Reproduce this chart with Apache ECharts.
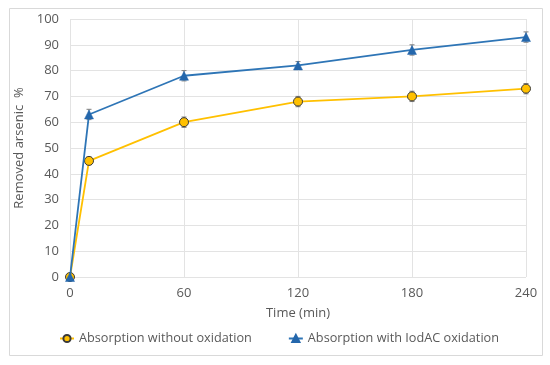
<!DOCTYPE html>
<html><head><meta charset="utf-8">
<script src="https://cdn.jsdelivr.net/npm/echarts@6/dist/echarts.min.js"></script>
<style>html,body{margin:0;padding:0;background:#fff}#c{width:550px;height:365px}</style>
</head><body><div id="c"></div>
<script>
var times = [0, 10, 60, 120, 180, 240];
var withoutOx = [0, 45, 60, 68, 70, 73];
var withOx = [0, 63, 78, 82, 88, 93];
var errWithout = [0, 1.5, 2, 2, 2, 2];
var errWith = [0, 2, 2, 1.5, 2, 2];
var xTicks = [0, 60, 120, 180, 240];
var nameWithout = 'Absorption without oxidation';
var nameWith = 'Absorption with IodAC oxidation';

function pairs(ys){ return times.map(function(t,i){ return [t, ys[i]]; }); }
function errData(ys, es){ return times.map(function(t,i){ return [t, ys[i]-es[i], ys[i]+es[i]]; }); }
function errRender(params, api){
  var x = api.value(0);
  var lo = api.coord([x, api.value(1)]);
  var hi = api.coord([x, api.value(2)]);
  var w = 2.5;
  var st = {stroke:'#7f7f7f', lineWidth:1};
  return {type:'group', children:[
    {type:'line', shape:{x1:lo[0],y1:lo[1],x2:hi[0],y2:hi[1]}, style:st},
    {type:'line', shape:{x1:lo[0]-w,y1:lo[1],x2:lo[0]+w,y2:lo[1]}, style:st},
    {type:'line', shape:{x1:hi[0]-w,y1:hi[1],x2:hi[0]+w,y2:hi[1]}, style:st}
  ]};
}
var font = 'Open Sans, Liberation Sans, sans-serif';
var chart = echarts.init(document.getElementById('c'));
chart.setOption({
  animation:false,
  graphic:[{type:'rect', shape:{x:9.5,y:8.5,width:533,height:347}, style:{fill:'none', stroke:'#d9d9d9', lineWidth:1}, silent:true, z:-1}],
  grid:{left:70, right:24, top:19, bottom:88},
  xAxis:{type:'value', min:0, max:240, interval:60,
    name:'Time (min)', nameLocation:'middle', nameGap:30,
    nameTextStyle:{fontFamily:font, fontSize:13, color:'#595959'},
    axisLine:{show:false}, axisTick:{show:false},
    axisLabel:{fontFamily:font, fontSize:13, color:'#595959', margin:10,
      formatter:function(v){ return xTicks.indexOf(v) >= 0 ? String(v) : ''; }},
    splitLine:{show:true, lineStyle:{color:'#e3e3e3'}}},
  yAxis:{type:'value', min:0, max:100, interval:10,
    name:'Removed arsenic  %', nameLocation:'middle', nameGap:37,
    nameTextStyle:{fontFamily:font, fontSize:13, color:'#595959'},
    axisLine:{show:false}, axisTick:{show:false},
    axisLabel:{fontFamily:font, fontSize:13, color:'#595959', margin:11},
    splitLine:{show:true, lineStyle:{color:'#e3e3e3'}}},
  legend:{bottom:15, left:54, itemGap:36, itemWidth:14, itemHeight:9,
    textStyle:{fontFamily:font, fontSize:12.7, color:'#595959'},
    data:[nameWithout, nameWith]},
  series:[
    {type:'custom', renderItem:errRender, data:errData(withoutOx, errWithout), z:1, silent:true},
    {type:'custom', renderItem:errRender, data:errData(withOx, errWith), z:1, silent:true},
    {name:nameWithout, type:'line', data:pairs(withoutOx), z:3,
      lineStyle:{color:'#FFC000', width:1.8}, symbol:'circle', symbolSize:9,
      itemStyle:{color:'#FFC000', borderColor:'#3a3a3a', borderWidth:1}},
    {name:nameWith, type:'line', data:pairs(withOx), z:4,
      lineStyle:{color:'#2E75B6', width:1.8}, symbol:'triangle', symbolSize:9,
      itemStyle:{color:'#2467AC', borderColor:'#2467AC', borderWidth:0.5}}
  ]
});
</script></body></html>
